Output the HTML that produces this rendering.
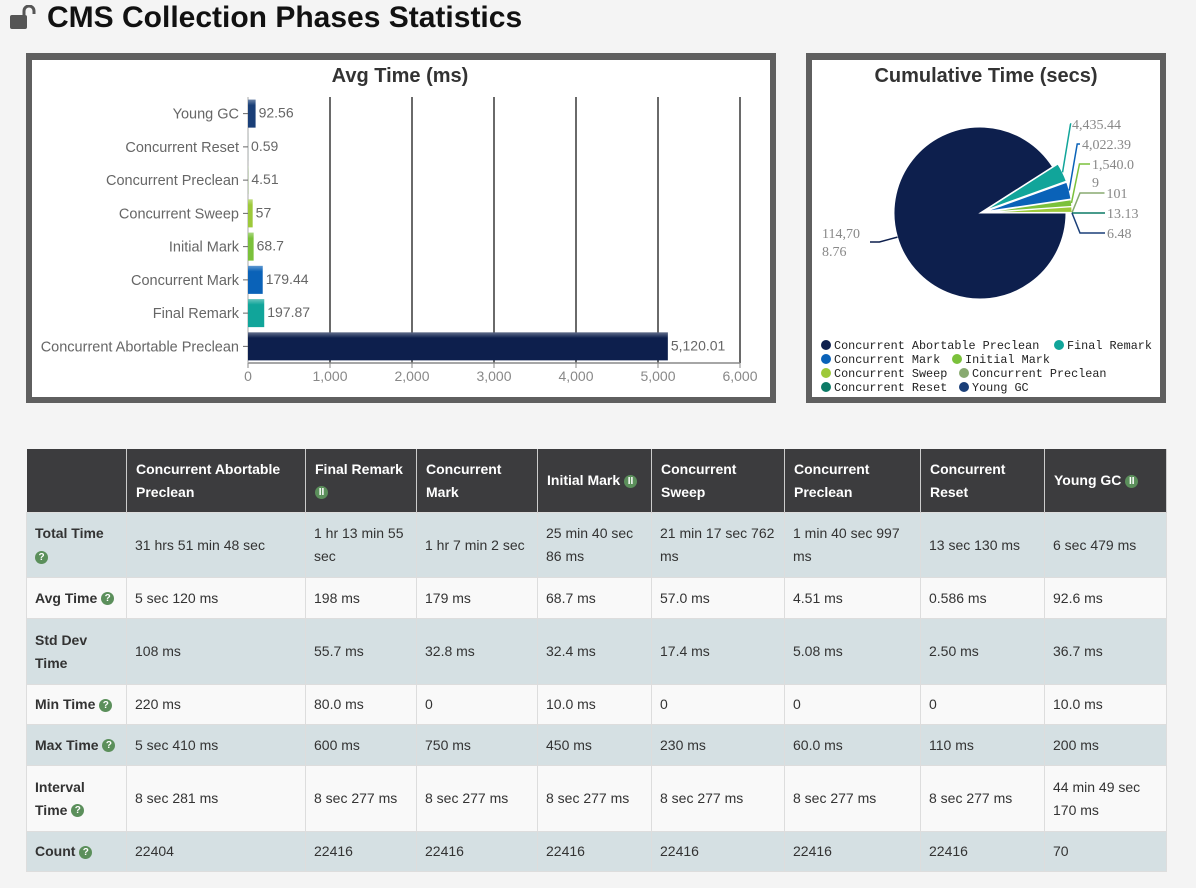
<!DOCTYPE html>
<html><head><meta charset="utf-8">
<style>
body{margin:0;background:#f4f4f4;width:1196px;height:888px;overflow:hidden;font-family:"Liberation Sans",sans-serif;position:relative}
#title{position:absolute;left:10px;top:0;height:36px;font:bold 30px "Liberation Sans",sans-serif;color:#111;display:flex;align-items:center}
#top{position:absolute;left:0;top:0}
table{position:absolute;left:26px;top:449px;width:1140px;border-collapse:collapse;font-size:14px;color:#333;table-layout:fixed}
th{background:#3c3c3e;color:#fff;text-align:left;font-weight:bold;padding:0 9px;height:63px;line-height:23px;border-right:1px solid #ccc}
td{padding:0 8px;line-height:23px;border:1px solid #ddd}
tr.b td{background:#d5e0e3}
tr.w td{background:#f9f9f9}
td.h{font-weight:bold;color:#333}
.q{display:inline-block;width:13px;height:13px;border-radius:7px;background:#5b8f5b;color:#fff;font-size:10px;line-height:13px;text-align:center;font-weight:bold;vertical-align:middle}
</style></head><body>
<div id="title">
<svg width="30" height="26" viewBox="0 0 30 26" style="margin-right:7px"><rect x="0" y="10" width="17" height="14" rx="2" fill="#555"/><path d="M14 10 V6 a5 5 0 0 1 10 0 V9" fill="none" stroke="#555" stroke-width="3"/></svg>
CMS Collection Phases Statistics</div>
<svg id="top" width="1196" height="410">
<rect x="26" y="53" width="750" height="350" fill="#5f5f5f"/>
<rect x="32" y="60" width="738" height="337" fill="#fff"/>
<text x="400" y="82" text-anchor="middle" font-family="Liberation Sans, sans-serif" font-weight="bold" font-size="20" fill="#333">Avg Time (ms)</text>
<g id="bars"></g>
<rect x="806" y="53" width="360" height="350" fill="#5f5f5f"/>
<rect x="812" y="60" width="348" height="337" fill="#fff"/>
<text x="986" y="82" text-anchor="middle" font-family="Liberation Sans, sans-serif" font-weight="bold" font-size="20" fill="#333">Cumulative Time (secs)</text>
<g id="pie"></g>
<g id="legend"></g>
</svg>
<table>
<colgroup><col style="width:100px"><col style="width:179px"><col style="width:111px"><col style="width:121px"><col style="width:114px"><col style="width:133px"><col style="width:136px"><col style="width:124px"><col style="width:122px"></colgroup>
<tr><th></th><th>Concurrent Abortable Preclean</th><th>Final Remark<br><span class="q">II</span></th><th>Concurrent Mark</th><th>Initial Mark <span class="q">II</span></th><th>Concurrent Sweep</th><th>Concurrent Preclean</th><th>Concurrent Reset</th><th>Young GC <span class="q">II</span></th></tr>
<tr class="b" style="height:65px"><td class="h">Total Time<br><span class="q">?</span></td><td>31 hrs 51 min 48 sec</td><td>1 hr 13 min 55 sec</td><td>1 hr 7 min 2 sec</td><td>25 min 40 sec 86 ms</td><td>21 min 17 sec 762 ms</td><td>1 min 40 sec 997 ms</td><td>13 sec 130 ms</td><td>6 sec 479 ms</td></tr>
<tr class="w" style="height:41px"><td class="h">Avg Time <span class="q">?</span></td><td>5 sec 120 ms</td><td>198 ms</td><td>179 ms</td><td>68.7 ms</td><td>57.0 ms</td><td>4.51 ms</td><td>0.586 ms</td><td>92.6 ms</td></tr>
<tr class="b" style="height:66px"><td class="h">Std Dev Time</td><td>108 ms</td><td>55.7 ms</td><td>32.8 ms</td><td>32.4 ms</td><td>17.4 ms</td><td>5.08 ms</td><td>2.50 ms</td><td>36.7 ms</td></tr>
<tr class="w" style="height:40px"><td class="h">Min Time <span class="q">?</span></td><td>220 ms</td><td>80.0 ms</td><td>0</td><td>10.0 ms</td><td>0</td><td>0</td><td>0</td><td>10.0 ms</td></tr>
<tr class="b" style="height:41px"><td class="h">Max Time <span class="q">?</span></td><td>5 sec 410 ms</td><td>600 ms</td><td>750 ms</td><td>450 ms</td><td>230 ms</td><td>60.0 ms</td><td>110 ms</td><td>200 ms</td></tr>
<tr class="w" style="height:66px"><td class="h">Interval Time <span class="q">?</span></td><td>8 sec 281 ms</td><td>8 sec 277 ms</td><td>8 sec 277 ms</td><td>8 sec 277 ms</td><td>8 sec 277 ms</td><td>8 sec 277 ms</td><td>8 sec 277 ms</td><td>44 min 49 sec 170 ms</td></tr>
<tr class="b" style="height:40px"><td class="h">Count <span class="q">?</span></td><td>22404</td><td>22416</td><td>22416</td><td>22416</td><td>22416</td><td>22416</td><td>22416</td><td>70</td></tr>
</table>
<script>
const barCategories=["Young GC","Concurrent Reset","Concurrent Preclean","Concurrent Sweep","Initial Mark","Concurrent Mark","Final Remark","Concurrent Abortable Preclean"];
const barValues=[92.56,0.59,4.51,57,68.7,179.44,197.87,5120.01];
const barLabels=["92.56","0.59","4.51","57","68.7","179.44","197.87","5,120.01"];
const barColors=["#1a3f78","#0c7a66","#88aa70","#9dc93a","#7bc13b","#0a62b8","#11a59a","#0d1f4d"];
const xTicks=[0,1000,2000,3000,4000,5000,6000];
const xTickLabels=["0","1,000","2,000","3,000","4,000","5,000","6,000"];
const pieNames=["Concurrent Abortable Preclean","Final Remark","Concurrent Mark","Initial Mark","Concurrent Sweep","Concurrent Preclean","Concurrent Reset","Young GC"];
const pieValues=[114708.76,4435.44,4022.39,1540.09,1277.76,101,13.13,6.48];
const pieLabels=["114,70\n8.76","4,435.44","4,022.39","1,540.0\n9","","101","13.13","6.48"];
const pieColors=["#0d1f4d","#11a59a","#0a62b8","#7bc13b","#9dc93a","#88aa70","#0c7a66","#1a3f78"];
const NS="http://www.w3.org/2000/svg";
function mk(t,a,p){const e=document.createElementNS(NS,t);for(const k in a)e.setAttribute(k,a[k]);p.appendChild(e);return e;}
const X0=248,X1=740,Y0=97,Y1=363;
const xs=v=>X0+(v-xTicks[0])/(xTicks[xTicks.length-1]-xTicks[0])*(X1-X0);
const band=(Y1-Y0)/barCategories.length;
const yc=i=>Y0+(i+0.5)*band;
const g=document.getElementById('bars');
const font='"Liberation Sans",sans-serif';
xTicks.forEach((t,i)=>{
 if(i>0){const l=mk('line',{x1:xs(t),x2:xs(t),y1:Y0,y2:Y1,stroke:'#6a6a6a','stroke-width':2},g);
 
 }
 mk('line',{x1:xs(t),x2:xs(t),y1:Y1,y2:Y1+5,stroke:'#888'},g);
 const tx=mk('text',{x:xs(t),y:Y1+18,'text-anchor':'middle','font-size':14,fill:'#888','font-family':font},g);
 tx.textContent=xTickLabels[i];
 
 
});
mk('line',{x1:X0,x2:X1,y1:Y1,y2:Y1,stroke:'#888','stroke-width':1.5},g);
mk('line',{x1:X0,x2:X0,y1:Y0,y2:Y1,stroke:'#aaa'},g);
const defs=mk('defs',{},g);
barCategories.forEach((c,i)=>{
 const y=yc(i);
 mk('line',{x1:X0-5,x2:X0,y1:y,y2:y,stroke:'#666'},g);
 const lt=mk('text',{x:X0-9,y:y+5,'text-anchor':'end','font-size':14.5,fill:'#666','font-family':font},g);
 lt.textContent=c;
 
 
 const w=Math.max(0,xs(barValues[i])-X0);
 const gr=mk('linearGradient',{id:'bg'+i,x1:0,y1:0,x2:0,y2:1},defs);
 mk('stop',{offset:'0','stop-color':'#fff','stop-opacity':0.35},gr);
 mk('stop',{offset:'0.2','stop-color':'#fff','stop-opacity':0},gr);
 const r=mk('rect',{x:X0,y:y-14,width:w,height:28,fill:barColors[i]},g);
 
 
 mk('rect',{x:X0,y:y-14,width:w,height:28,fill:'url(#bg'+i+')'},g);
 const vt=mk('text',{x:X0+w+3,y:y+4,'font-size':14,fill:'#666','font-family':font},g);
 vt.textContent=barLabels[i];
 
 
});
const pg=document.getElementById('pie');
const CX=980,CY=213,R=86;
const tot=pieValues.reduce((a,b)=>a+b,0);
let a0=0;const mids=[];
pieValues.forEach((v,i)=>{
 const a1=a0+v/tot*2*Math.PI;const m=(a0+a1)/2;mids.push(m);
 const off=i===0?0:6;
 const cx=CX+off*Math.cos(m),cy=CY+off*Math.sin(m);
 const large=(a1-a0)>Math.PI?1:0;
 const d=`M${cx},${cy} L${cx+R*Math.cos(a0)},${cy+R*Math.sin(a0)} A${R},${R} 0 ${large} 1 ${cx+R*Math.cos(a1)},${cy+R*Math.sin(a1)} Z`;
 const p=mk('path',{d:d,fill:pieColors[i],stroke:'#fff','stroke-width':1},pg);
 
 
 a0=a1;
});
const right=[];pieLabels.forEach((l,i)=>{if(i>0&&l)right.push(i);});
let ly=128;
right.forEach(i=>{
 const m=mids[i];
 const sx=CX+6*Math.cos(m)+R*Math.cos(m),sy=CY+6*Math.sin(m)+R*Math.sin(m);
 const lx=1070+Math.min(35,(ly-128)*0.5);
 mk('polyline',{points:`${sx},${sy} ${sx+8},${ly-4} ${lx},${ly-4}`,fill:'none',stroke:pieColors[i],'stroke-width':1.5},pg);
 const t=mk('text',{x:lx+2,y:ly+1,'font-size':14,fill:'#888','font-family':'"Liberation Serif",serif'},pg);
 const parts=pieLabels[i].split('\n');
 parts.forEach((s,k)=>{const ts=mk('tspan',{x:lx+2,dy:k?18:0},t);ts.textContent=s;});
 
 
 ly+=parts.length>1?29:20;
});
{const m=mids[0];const sx=CX+R*Math.cos(m),sy=CY+R*Math.sin(m);
 mk('polyline',{points:`${sx},${sy} ${sx-18},${CY+29} ${870},${CY+29}`,fill:'none',stroke:pieColors[0],'stroke-width':1.5},pg);
 const t=mk('text',{x:822,y:238,'font-size':14,fill:'#888','font-family':'"Liberation Serif",serif'},pg);
 pieLabels[0].split('\n').forEach((s,k)=>{const ts=mk('tspan',{x:822,dy:k?18:0},t);ts.textContent=s;});
 
 }
const lg=document.getElementById('legend');
const legPos=[[826,345],[1059,345],[826,359],[957,359],[826,373],[964,373],[826,387],[964,387]];
pieNames.forEach((n,i)=>{
 const [x,y]=legPos[i];
 const e=mk('g',{},lg);
 
 
 mk('circle',{cx:x,cy:y,r:5,fill:pieColors[i]},e);
 const t=mk('text',{x:x+8,y:y+4,'font-size':11.8,fill:'#222','font-family':'"Liberation Mono",monospace'},e);
 t.textContent=n;
});
</script>
</body></html>
